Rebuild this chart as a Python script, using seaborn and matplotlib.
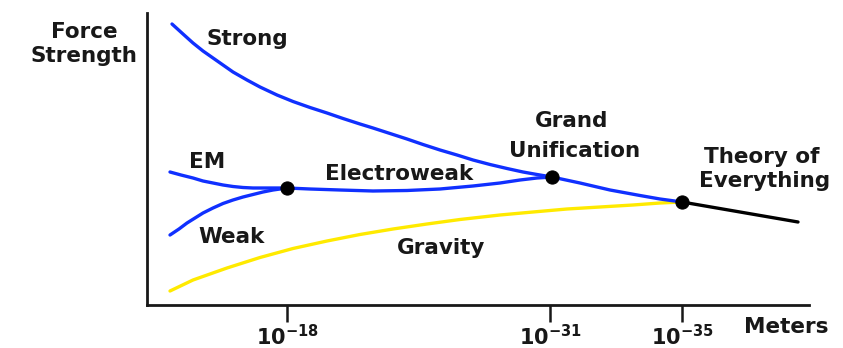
import matplotlib
matplotlib.use("Agg")
import matplotlib.pyplot as plt
import seaborn as sns

# Position along the distance axis (arbitrary units, left = large scales)
# and force strength (arbitrary units)
strong_x = [172, 183, 193, 203, 213, 223, 233, 247, 260, 277, 293, 310, 327, 343, 360, 373,
            390, 407, 423, 440, 457, 473, 490, 507, 523, 537, 552, 580, 610, 640, 660, 682]
strong_y = [281, 271, 262, 254, 247, 240, 233, 225, 218, 210, 203.5, 197.5, 192, 186.5, 181, 177,
            171.5, 166, 160.5, 155, 150, 145, 140.5, 136.5, 133, 130.5, 128, 122, 115, 109.5, 106, 103]

em_x = [170, 181, 193, 203, 213, 223, 233, 243, 253, 263, 273, 287]
em_y = [133, 130, 127, 124, 122, 120, 118.5, 117.5, 117, 117, 117, 117]

weak_x = [170, 179, 187, 195, 203, 213, 223, 233, 243, 253, 263, 273, 287]
weak_y = [70, 76, 82, 87, 92, 97, 101.5, 105, 108, 110.5, 113, 115, 117]

electroweak_x = [287, 310, 340, 373, 407, 440, 473, 500, 520, 537, 552]
electroweak_y = [117, 116, 115, 114, 114.5, 116, 119, 122, 125, 127, 128]

gravity_x = [170, 193, 227, 260, 293, 327, 360, 393, 427, 460, 500, 533, 567, 600, 633, 660, 682]
gravity_y = [14, 25, 37, 47.5, 56.5, 64, 70.5, 76, 81, 85.5, 90, 93, 96, 98, 100, 102, 103]

toe_x = [682, 798]
toe_y = [103, 83]

unify_x = [287, 552, 682]
unify_y = [117, 128, 103]

tick_pos = [287, 550, 682]
tick_labels = [r"$\mathbf{10^{-18}}$", r"$\mathbf{10^{-31}}$", r"$\mathbf{10^{-35}}$"]

sns.set_style("white")
plt.rcParams["font.family"] = ["DejaVu Sans"]
plt.rcParams["mathtext.fontset"] = "dejavusans"

blue = "#1030ff"
yellow = "#ffea00"
ink = "#181818"

fig = plt.figure(figsize=(8.43, 3.48), dpi=100)
ax = fig.add_axes([147 / 843, 43 / 348, 662 / 843, 292 / 348])

line_kw = dict(lw=2.4, sort=False, estimator=None, solid_joinstyle="round", solid_capstyle="round", ax=ax)
sns.lineplot(x=gravity_x, y=gravity_y, color=yellow, **line_kw)
sns.lineplot(x=strong_x, y=strong_y, color=blue, **line_kw)
sns.lineplot(x=em_x, y=em_y, color=blue, **line_kw)
sns.lineplot(x=weak_x, y=weak_y, color=blue, **line_kw)
sns.lineplot(x=electroweak_x, y=electroweak_y, color=blue, **line_kw)
sns.lineplot(x=toe_x, y=toe_y, color="black", **line_kw)
sns.scatterplot(x=unify_x, y=unify_y, color="black", s=90, edgecolor="black", zorder=5, ax=ax)

ax.set_xlim(147, 809)
ax.set_ylim(0, 292)
sns.despine(ax=ax)
for side in ["left", "bottom"]:
    ax.spines[side].set_color(ink)
    ax.spines[side].set_linewidth(2.0)

ax.set_yticks([])
ax.set_xticks(tick_pos)
ax.set_xticklabels(tick_labels, fontsize=15, color=ink)
ax.tick_params(axis="x", direction="out", length=12, width=1.8, color=ink, pad=2, bottom=True)

# text labels, positioned in the same units (y measured up from the axis)
font = dict(fontsize=15.5, fontweight="bold", color=ink, ha="center", va="baseline", clip_on=False)
labels = [
    ("Force", 84, 305 - 38),
    ("Strength", 84, 305 - 62),
    ("Strong", 247, 305 - 45),
    ("EM", 207, 305 - 168),
    ("Weak", 232, 305 - 243),
    ("Electroweak", 399, 305 - 180),
    ("Gravity", 441, 305 - 254),
    ("Grand", 572, 305 - 127),
    ("Unification", 575, 305 - 157),
    ("Theory of", 762, 305 - 163),
    ("Everything", 765, 305 - 187),
    ("Meters", 786, 305 - 333),
]
for txt, x, y in labels:
    ax.text(x, y, txt, **font)

fig.savefig("out.png", dpi=100)
